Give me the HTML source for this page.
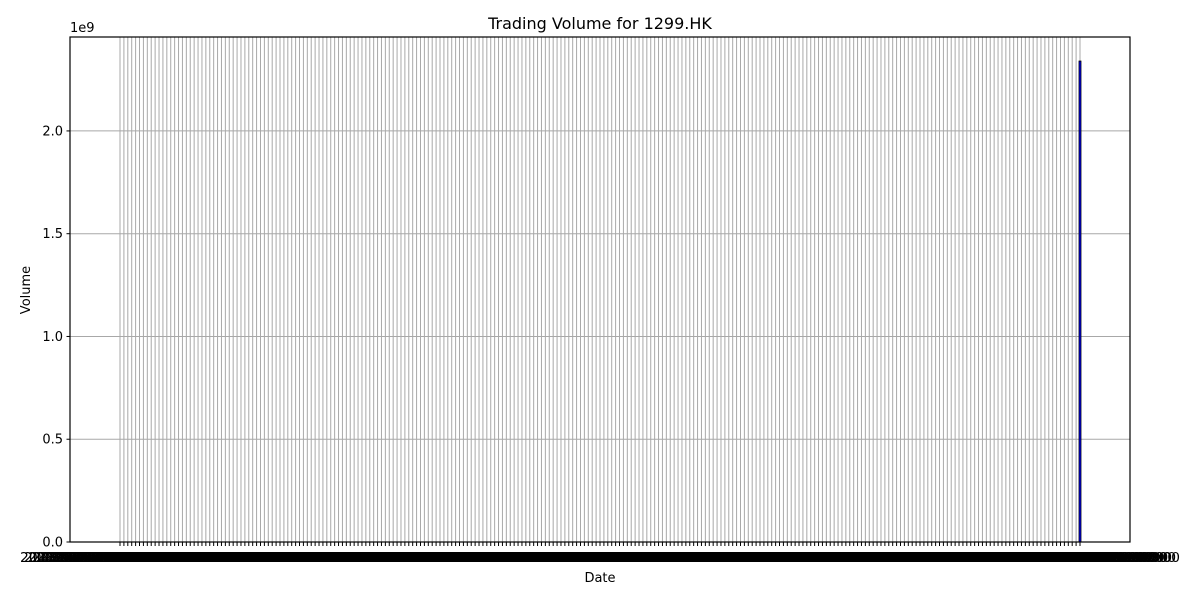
<!DOCTYPE html>
<html><head><meta charset="utf-8"><style>
body{margin:0;background:#fff;}
svg{display:block;font-family:"DejaVu Sans","Liberation Sans",sans-serif;}
</style></head><body>
<svg id="chart" width="1200" height="600">
<rect width="1200" height="600" fill="#fff"/>
<text x="600" y="29" text-anchor="middle" font-size="16">Trading Volume for 1299.HK</text>
<text x="600" y="582" text-anchor="middle" font-size="13">Date</text>
<text x="30" y="290" text-anchor="middle" font-size="13" transform="rotate(-90 30 290)">Volume</text>
<text x="70" y="32" font-size="13">1e9</text>
<g id="grid"></g><g id="bars"></g><g id="ticks"></g>
<rect x="70" y="37" width="1060" height="505" fill="none" stroke="#000" stroke-width="1.2"/>
</svg>
<script>
const yTicks=[0,0.5,1.0,1.5,2.0];
const yTickLabels=["0.0","0.5","1.0","1.5","2.0"];
const volumes=[
0.0004,0.0005,0.0004,0.0003,0.0005,0.0004,0.0004,0.0003,0.0005,0.0004,0.0004,0.0005,0.0003,0.0004,0.0004,0.0005,0.0004,0.0003,0.0004,0.0005,
0.0004,0.0005,0.0004,0.0003,0.0005,0.0004,0.0004,0.0003,0.0005,0.0004,0.0004,0.0005,0.0003,0.0004,0.0004,0.0005,0.0004,0.0003,0.0004,0.0005,
0.0004,0.0005,0.0004,0.0003,0.0005,0.0004,0.0004,0.0003,0.0005,0.0004,0.0004,0.0005,0.0003,0.0004,0.0004,0.0005,0.0004,0.0003,0.0004,0.0005,
0.0004,0.0005,0.0004,0.0003,0.0005,0.0004,0.0004,0.0003,0.0005,0.0004,0.0004,0.0005,0.0003,0.0004,0.0004,0.0005,0.0004,0.0003,0.0004,0.0005,
0.0004,0.0005,0.0004,0.0003,0.0005,0.0004,0.0004,0.0003,0.0005,0.0004,0.0004,0.0005,0.0003,0.0004,0.0004,0.0005,0.0004,0.0003,0.0004,0.0005,
0.0004,0.0005,0.0004,0.0003,0.0005,0.0004,0.0004,0.0003,0.0005,0.0004,0.0004,0.0005,0.0003,0.0004,0.0004,0.0005,0.0004,0.0003,0.0004,0.0005,
0.0004,0.0005,0.0004,0.0003,0.0005,0.0004,0.0004,0.0003,0.0005,0.0004,0.0004,0.0005,0.0003,0.0004,0.0004,0.0005,0.0004,0.0003,0.0004,0.0005,
0.0004,0.0005,0.0004,0.0003,0.0005,0.0004,0.0004,0.0003,0.0005,0.0004,0.0004,0.0005,0.0003,0.0004,0.0004,0.0005,0.0004,0.0003,0.0004,0.0005,
0.0004,0.0005,0.0004,0.0003,0.0005,0.0004,0.0004,0.0003,0.0005,0.0004,0.0004,0.0005,0.0003,0.0004,0.0004,0.0005,0.0004,0.0003,0.0004,0.0005,
0.0004,0.0005,0.0004,0.0003,0.0005,0.0004,0.0004,0.0003,0.0005,0.0004,0.0004,0.0005,0.0003,0.0004,0.0004,0.0005,0.0004,0.0003,0.0004,0.0005,
0.0004,0.0005,0.0004,0.0003,0.0005,0.0004,0.0004,0.0003,0.0005,0.0004,0.0004,0.0005,0.0003,0.0004,0.0004,0.0005,0.0004,0.0003,0.0004,0.0005,
0.0004,0.0005,0.0004,0.0003,0.0005,0.0004,0.0004,0.0003,0.0005,0.0004,0.0004,0.0005,0.0003,0.0004,0.0004,0.0005,0.0004,0.0003,0.0004,0.0005,
0.0004,0.0005,0.0004,0.0003,0.0005,0.0004,2.34];
const startDate="2023-01-03";
const dates=[];
(function(){let d=new Date(startDate+"T00:00:00Z");while(dates.length<volumes.length){const w=d.getUTCDay();if(w!==0&&w!==6)dates.push(d.toISOString().slice(0,10)+" 00:00:00+08:00");d.setUTCDate(d.getUTCDate()+1);}})();
const NS="http://www.w3.org/2000/svg";
const L=70,R=1130,T=37,B=542,yMax=2.457;
const n=volumes.length;
const x0=120,x1=1080,step=(x1-x0)/(n-1);
const xs=i=>x0+i*step;
const ys=v=>B-(v/yMax)*(B-T);
const grid=document.getElementById('grid'),bars=document.getElementById('bars'),ticks=document.getElementById('ticks');
function mk(tag,attrs,parent){const e=document.createElementNS(NS,tag);for(const k in attrs)e.setAttribute(k,attrs[k]);parent.appendChild(e);return e;}
yTicks.forEach((t,i)=>{
  const g=mk('line',{x1:L,x2:R,y1:ys(t),y2:ys(t),stroke:'#a8a8a8','stroke-width':1},grid);
  
  
  const tk=mk('line',{x1:L-3.5,x2:L,y1:ys(t),y2:ys(t),stroke:'#000','stroke-width':1},ticks);
  
  
  const tx=mk('text',{x:L-7,y:ys(t)+4.5,'text-anchor':'end','font-size':13},ticks);
  tx.textContent=yTickLabels[i];
  
  
});
dates.forEach((d,i)=>{
  const x=xs(i);
  const g=mk('line',{x1:x,x2:x,y1:T,y2:B,stroke:'#a8a8a8','stroke-width':1},grid);
  
  
  const tk=mk('line',{x1:x,x2:x,y1:B,y2:B+4,stroke:'#000','stroke-width':1},ticks);
  
  
  const tx=mk('text',{x:x,y:B+20,'text-anchor':'middle','font-size':13,textLength:200,lengthAdjust:'spacingAndGlyphs'},ticks);
  tx.textContent=d;
  
  
  const v=volumes[i];const w=2;
  const b=mk('rect',{x:x-w/2,y:ys(v),width:w,height:B-ys(v),fill:'#0000ff',stroke:'#000','stroke-width':0.8},bars);
  
  
});
</script>
</body></html>
